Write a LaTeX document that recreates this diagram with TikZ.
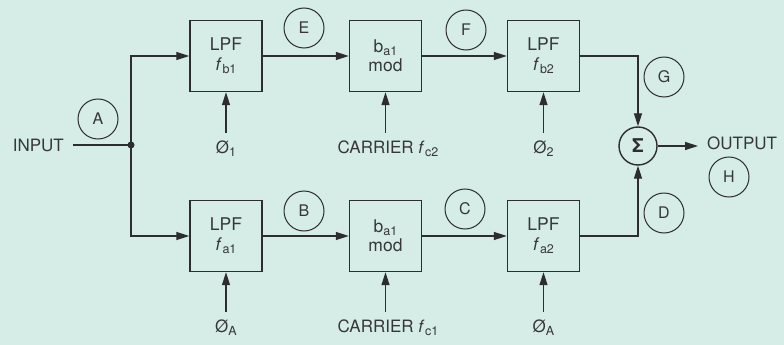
\documentclass[tikz,border=0pt]{standalone}
\usepackage{fontspec}
\setmainfont{TeX Gyre Heros}
\usetikzlibrary{arrows.meta}
\definecolor{bg}{RGB}{213,236,231}
\definecolor{ink}{RGB}{45,45,45}
\definecolor{txt}{RGB}{55,55,55}
\newcommand\mysb[1]{\raisebox{-0.35ex}{\fontsize{12.5}{12.5}\selectfont #1}}
\newcommand\myf[1]{\textit{f}\kern0.6pt\mysb{#1}}
\tikzset{
  blk/.style={draw=ink, line width=1.4pt, minimum width=72pt, minimum height=71pt, inner sep=0pt, align=center, text=txt, font=\fontsize{17.5}{20}\selectfont},
  modblk/.style={blk, font=\fontsize{17.5}{19}\selectfont},
  lbl/.style={circle, draw=ink, line width=1pt, minimum size=40pt, inner sep=0pt, text=txt, font=\fontsize{16}{16}\selectfont},
  sig/.style={circle, draw=ink, line width=1.4pt, minimum size=38pt, inner sep=0pt, text=ink, font=\fontsize{19}{19}\selectfont\bfseries},
  wire/.style={draw=ink, line width=1.3pt},
  arr/.style={wire, -{Triangle[length=13pt,width=8pt]}},
  txtl/.style={inner sep=0pt, text=txt, font=\fontsize{17}{17}\selectfont}
}
\begin{document}
\begin{tikzpicture}[x=1pt,y=-1pt]
\fill[bg] (0,0) rectangle (784,345);
\useasboundingbox (0,0) rectangle (784,345);
% boxes
\node[blk] (l1) at (226,56) {LPF\\\myf{b1}};
\node[modblk] (m1) at (385.5,56) {b\mysb{a1}\\mod};
\node[blk] (l2) at (543.5,56) {LPF\\\myf{b2}};
\node[blk] (a1) at (226,236) {LPF\\\myf{a1}};
\node[modblk] (m2) at (385.5,236) {b\mysb{a1}\\mod};
\node[blk] (a2) at (543.5,236) {LPF\\\myf{a2}};
% sum
\node[sig] (S) at (638,146) {Σ};
% circled labels
\node[lbl] (A) at (98,119) {A};
\node[lbl] (E) at (304,28) {E};
\node[lbl] (F) at (466,30) {F};
\node[lbl] (G) at (664,77) {G};
\node[lbl] (H) at (729,177) {H};
\node[lbl] (D) at (664,213) {D};
\node[lbl] (C) at (465,209) {C};
\node[lbl] (B) at (304,211) {B};
% input / output
\node[txtl, anchor=east] (in) at (64,145) {INPUT};
\coordinate (j) at (131,145);
\draw[wire] ([xshift=9pt]in.east) -- (j);
\fill[ink] (j) circle (3.5);
\draw[arr] (j) |- (l1.west);
\draw[arr] (j) |- (a1.west);
\draw[arr] (l1) -- (m1);
\draw[arr] (m1) -- (l2);
\draw[arr] (a1) -- (m2);
\draw[arr] (m2) -- (a2);
\draw[arr] (l2.east) -| (S.north);
\draw[arr] (a2.east) -| (S.south);
\node[txtl, anchor=west] (out) at (707,143) {OUTPUT};
\draw[arr] (S.east) -- ([xshift=-9pt]out.west |- S.east);
% control inputs
\node[txtl] (p1) at (226,149) {Ø\mysb{1}};
\node[txtl] (c2) at (388,149) {CARRIER \myf{c2}};
\node[txtl] (p2) at (543.5,149) {Ø\mysb{2}};
\node[txtl] (pa) at (226,328) {Ø\mysb{A}};
\node[txtl] (c1) at (388,328) {CARRIER \myf{c1}};
\node[txtl] (pb) at (543.5,328) {Ø\mysb{A}};
\draw[arr] ([yshift=8pt]p1.north) -- (l1.south);
\draw[arr] ([yshift=8pt]c2.north -| m1.south) -- (m1.south);
\draw[arr] ([yshift=8pt]p2.north) -- (l2.south);
\draw[arr] ([yshift=8pt]pa.north) -- (a1.south);
\draw[arr] ([yshift=8pt]c1.north -| m2.south) -- (m2.south);
\draw[arr] ([yshift=8pt]pb.north) -- (a2.south);
\end{tikzpicture}
\end{document}
